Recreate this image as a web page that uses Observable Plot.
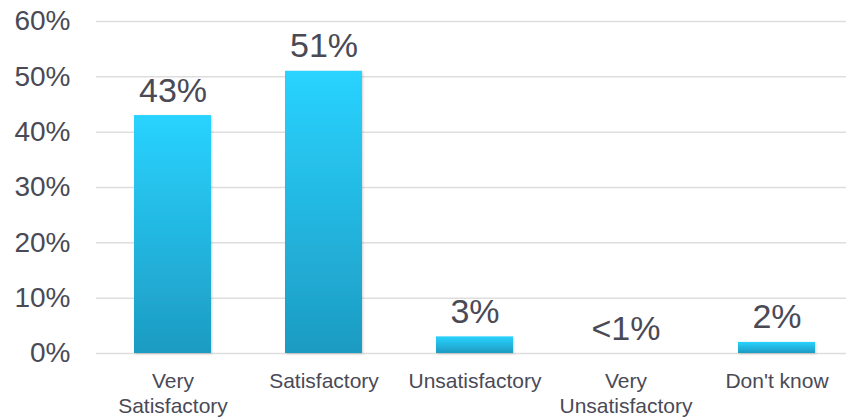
<!DOCTYPE html>
<html>
<head>
<meta charset="utf-8">
<script src="https://cdn.jsdelivr.net/npm/d3@7"></script>
<script src="https://cdn.jsdelivr.net/npm/@observablehq/plot@0.6"></script>
<style>
  html, body { margin: 0; padding: 0; background: #fff; }
  #chart { width: 846px; height: 418px; overflow: hidden; }
</style>
</head>
<body>
<div id="chart"></div>
<script>
const categories = ["Very\nSatisfactory", "Satisfactory", "Unsatisfactory", "Very\nUnsatisfactory", "Don't know"];
const values = [43, 51, 3, 0, 2];
const valueLabels = ["43%", "51%", "3%", "<1%", "2%"];
const yTicks = [0, 10, 20, 30, 40, 50, 60];

const data = categories.map((c, i) => ({category: c, value: values[i], label: valueLabels[i]}));
const textColor = "#4a4a56";

const chart = Plot.plot({
  width: 846,
  height: 418,
  marginLeft: 96,
  marginRight: 0,
  marginTop: 21,
  marginBottom: 65,
  style: {fontFamily: "'Liberation Sans', Arial, sans-serif", color: textColor, background: "#fff"},
  x: {domain: categories, range: [96, 853], paddingInner: 0.49, paddingOuter: 0.245, label: null},
  y: {domain: [0, 60], label: null},
  marks: [
    Plot.ruleY(yTicks, {stroke: "#dedede", strokeWidth: 1.5}),
    Plot.axisY(yTicks, {tickSize: 0, tickPadding: 26, fontSize: 28, fill: textColor, tickFormat: d => d + "%", label: null}),
    Plot.axisX({tickSize: 0, tickPadding: 17, fontSize: 21, lineHeight: 1.19, fill: textColor, label: null}),
    Plot.barY(data, {x: "category", y: "value", fill: "url(#barGrad)", filter: d => d.value > 0}),
    Plot.text(data, {x: "category", y: "value", text: "label", dy: -14, lineAnchor: "bottom", fontSize: 34, fill: textColor})
  ]
});

const svg = d3.select(chart);
const defs = svg.insert("defs", ":first-child");
const grad = defs.append("linearGradient").attr("id", "barGrad").attr("x1", 0).attr("y1", 0).attr("x2", 0).attr("y2", 1);
grad.append("stop").attr("offset", "0%").attr("stop-color", "#29d3ff");
grad.append("stop").attr("offset", "100%").attr("stop-color", "#1d9bc2");
const f = defs.append("filter").attr("id", "barShadow").attr("x", "-10%").attr("y", "-10%").attr("width", "130%").attr("height", "130%");
f.append("feDropShadow").attr("dx", 1).attr("dy", 1).attr("stdDeviation", 1).attr("flood-color", "#000").attr("flood-opacity", 0.18);
svg.selectAll("[aria-label='bar'] rect").attr("filter", "url(#barShadow)");

document.getElementById("chart").appendChild(chart);
</script>
</body>
</html>
